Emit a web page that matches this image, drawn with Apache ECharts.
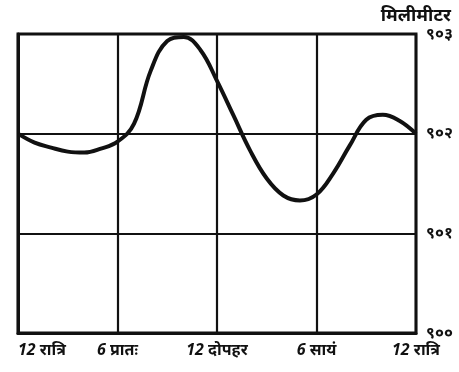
<!DOCTYPE html>
<html>
<head>
<meta charset="utf-8">
<script src="https://cdn.jsdelivr.net/npm/echarts@6/dist/echarts.min.js"></script>
<style>
  html, body { margin: 0; padding: 0; background: #fff; }
  #chart { width: 459px; height: 372px; }
</style>
</head>
<body>
<div id="chart"></div>
<script>
// Hours since midnight and air pressure (millimetres) over one day
const hours = [0, 1, 2, 3, 4, 5, 6, 7, 8, 9, 10, 11, 12, 13, 14, 15, 16, 17, 18, 19, 20, 21, 22, 23, 24];
const pressure = [902.00, 901.91, 901.86, 901.82, 901.81, 901.85, 901.92, 902.10, 902.63, 902.93, 902.97, 902.84,
                  902.53, 902.18, 901.83, 901.55, 901.38, 901.33, 901.39, 901.60, 901.88, 902.14, 902.19, 902.13, 902.00];

// Axis tick labels
const timeTicks = [0, 6, 12, 18, 24];
const timeLabels = ['12 रात्रि', '6 प्रातः', '12 दोपहर', '6 सायं', '12 रात्रि'];
const pressureTicks = [900, 901, 902, 903];
const pressureLabels = ['९००', '९०१', '९०२', '९०३'];
const unitName = 'मिलीमीटर';

const points = hours.map((h, i) => [h, pressure[i]]);
const font = 'Noto Sans, Lato, sans-serif';

const chart = echarts.init(document.getElementById('chart'), null, { renderer: 'canvas' });
chart.setOption({
  animation: false,
  backgroundColor: '#fff',
  // unit caption above the right-hand pressure axis
  title: {
    text: unitName,
    right: 3, top: 2,
    textStyle: { color: '#111', fontFamily: font, fontSize: 18, fontStyle: 'italic', fontWeight: 'bold' }
  },
  grid: {
    left: 18, right: 43, top: 34, bottom: 39,
    outerBoundsMode: 'none',
    containLabel: false,
    show: true, borderColor: '#111', borderWidth: 3, backgroundColor: 'transparent'
  },
  xAxis: {
    type: 'value',
    min: 0, max: 24, interval: 6,
    axisLine: { show: true, lineStyle: { color: '#111', width: 3 } },
    axisTick: { show: false },
    splitLine: { show: true, lineStyle: { color: '#111', width: 2.2 } },
    axisLabel: {
      color: '#111', fontFamily: font, fontSize: 16, fontWeight: 'bold', fontStyle: 'italic',
      margin: 9,
      alignMinLabel: 'left', alignMaxLabel: 'center',
      formatter: v => { const i = timeTicks.indexOf(v); return i >= 0 ? timeLabels[i] : ''; }
    }
  },
  yAxis: {
    type: 'value',
    position: 'right',
    min: 900, max: 903, interval: 1,
    axisLine: { show: true, lineStyle: { color: '#111', width: 3 } },
    axisTick: { show: false },
    splitLine: { show: true, lineStyle: { color: '#111', width: 2.2 } },
    axisLabel: {
      color: '#111', fontFamily: font, fontSize: 16, fontWeight: 'bold', margin: 10,
      formatter: v => { const i = pressureTicks.indexOf(v); return i >= 0 ? pressureLabels[i] : ''; }
    }
  },
  series: [{
    type: 'line',
    data: points,
    smooth: 0.4,
    showSymbol: false,
    lineStyle: { color: '#111', width: 4 }
  }]
});
</script>
</body>
</html>
